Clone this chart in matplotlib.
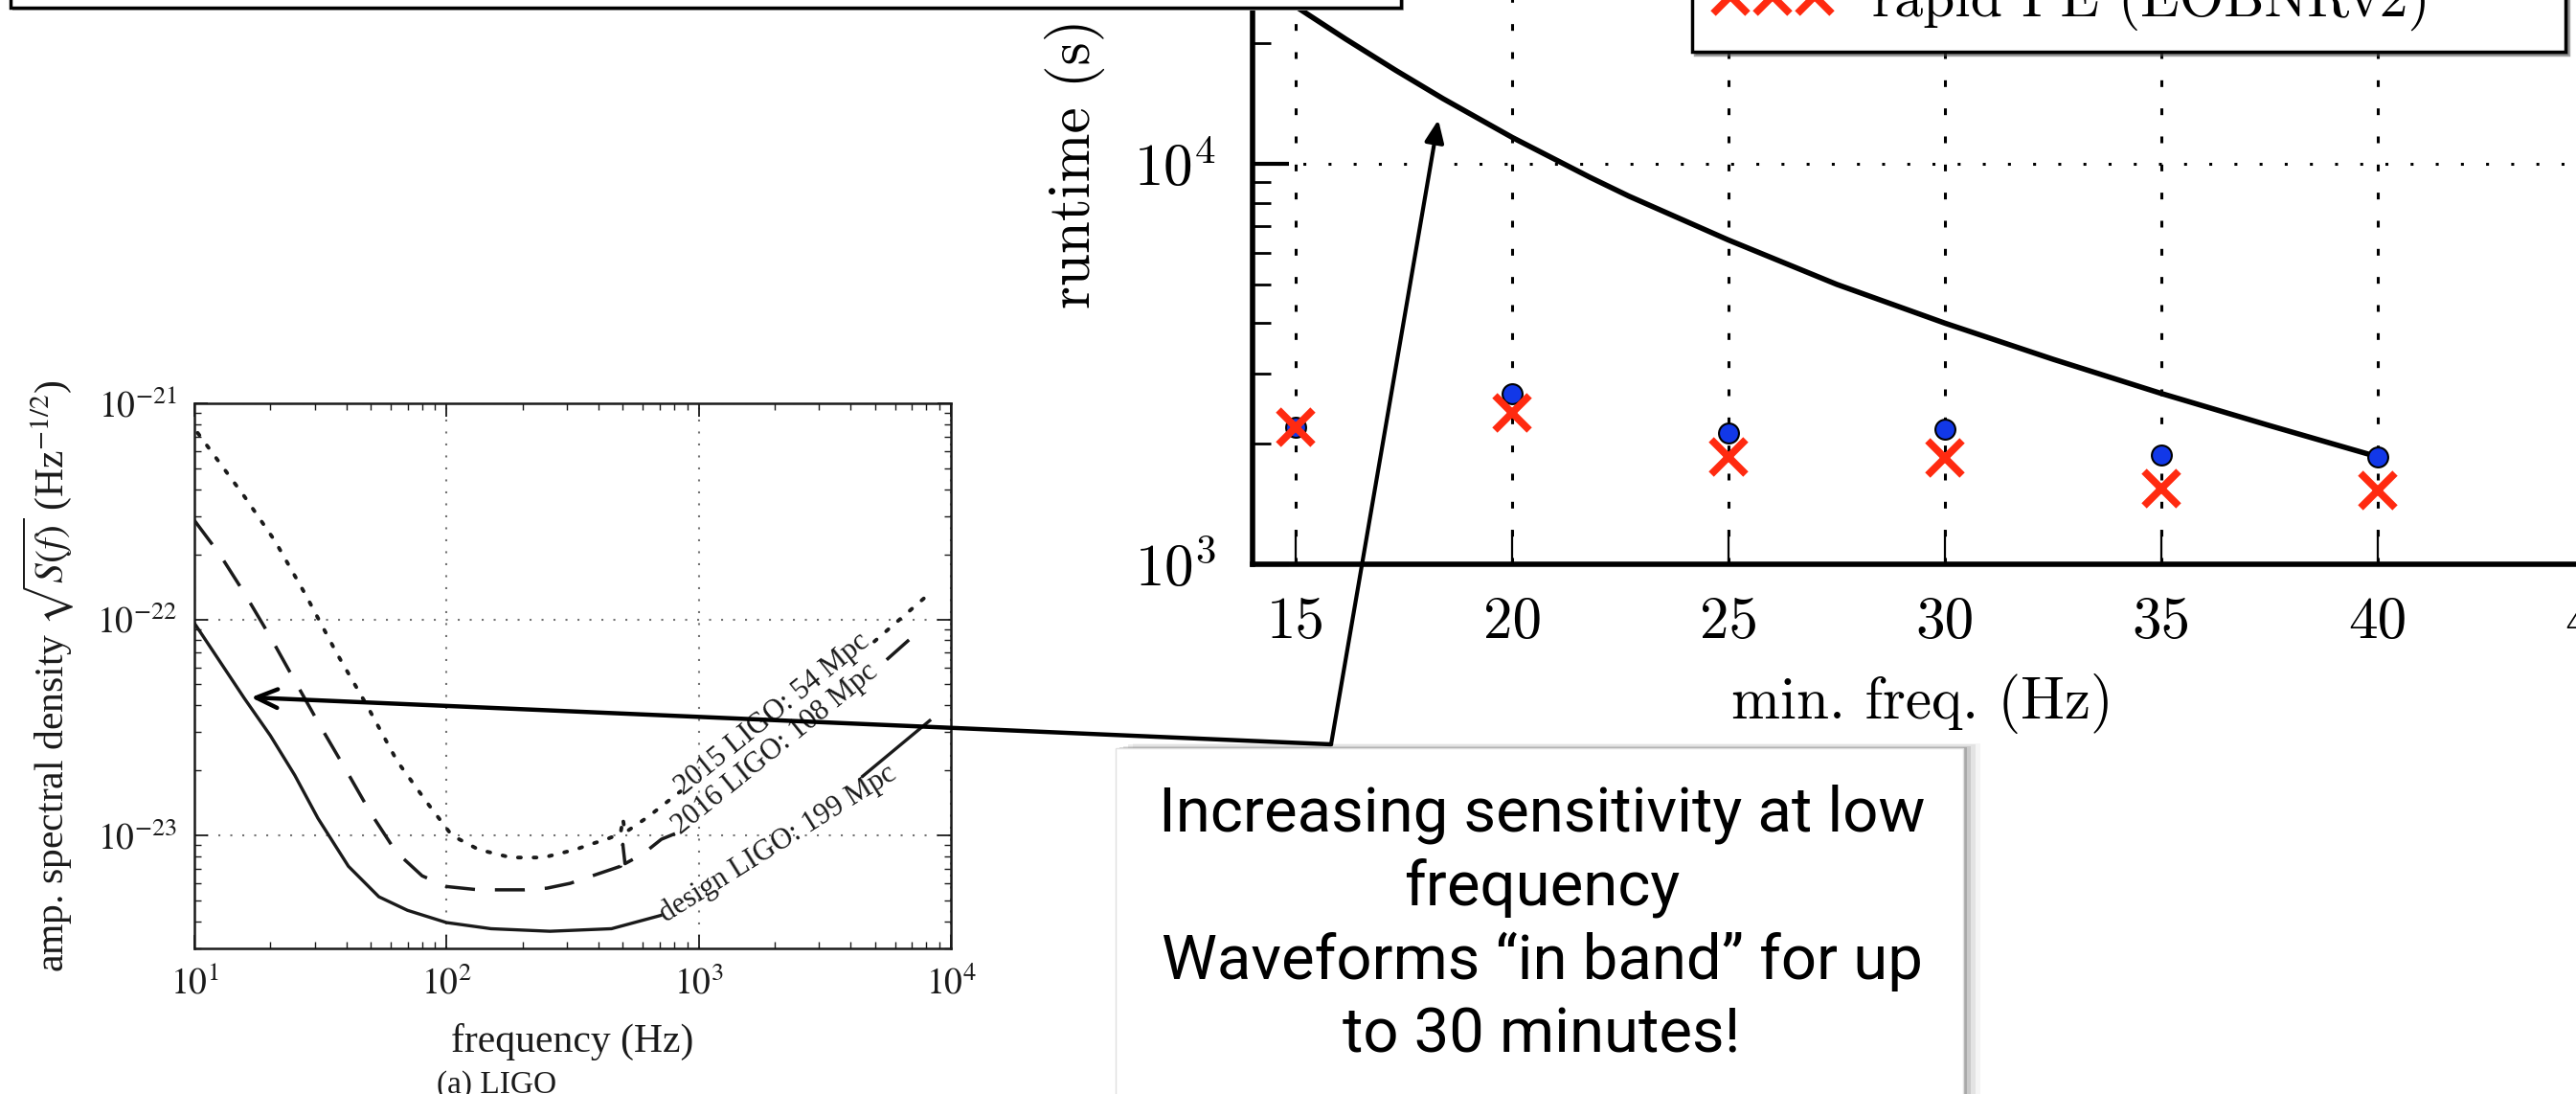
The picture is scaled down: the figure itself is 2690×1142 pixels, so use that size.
import numpy as np
import matplotlib
matplotlib.use("Agg")
import matplotlib.pyplot as plt
from matplotlib.patches import Rectangle, FancyArrowPatch
from matplotlib.ticker import NullFormatter

W, H = 2690, 1142
nan = np.nan

# right panel: runtime vs low-frequency cutoff
fmin = [15, 20, 25, 30, 35, 40]
runtime_circ = [2200, 2670, 2130, 2175, 1875, 1855]
runtime_x = [2195, 2390, 1850, 1840, 1545, 1530]
curve_f = [15.0, 16.15, 17.3, 18.4, 20.0, 21.8, 22.7, 25.0, 27.5, 30.0, 32.5, 35.0, 37.5, 40.0]
curve_t = [24700, 20500, 17140, 14550, 11640, 9250, 8300, 6450, 5000, 4000, 3250, 2670, 2220, 1855]
freq_ticks = [15, 20, 25, 30, 35, 40, 45]

# left panel: LIGO amplitude spectral densities
design_f = [10, 12.6, 15.8, 20, 25, 30.9, 40.8, 53.9, 70, 100, 150, 257, 451, 705, nan, 4470, 8240]
design_asd = [9.6e-23, 6.4e-23, 4.3e-23, 2.9e-23, 1.9e-23, 1.2e-23, 7.2e-24, 5.2e-24, 4.5e-24,
              3.95e-24, 3.7e-24, 3.6e-24, 3.7e-24, 4.26e-24, nan, 1.88e-23, 3.4e-23]
ligo16_f = [10, 12.6, 15.8, 20, 25, 31.6, 40, 50, 63, 80, 100, 134, 204, 250, 309, 378, 490, 500,
            510, 600, 711, 824, nan, 5560, 7360]
ligo16_asd = [2.87e-22, 2.0e-22, 1.32e-22, 8.3e-23, 5.2e-23, 3.2e-23, 2.0e-23, 1.27e-23, 8.4e-24,
              6.5e-24, 5.8e-24, 5.6e-24, 5.6e-24, 5.7e-24, 6.0e-24, 6.5e-24, 7.2e-24, 9.1e-24,
              7.4e-24, 8.2e-24, 9.6e-24, 1.03e-23, nan, 6.5e-23, 8.7e-23]
ligo15_f = [10.3, 15.8, 20.9, 27.6, 36.6, 48.3, 63.8, 84.4, 105, 134, 180, 242, 324, 372, 431,
            490, 500, 510, 630, 847, nan, 4970, 8240]
ligo15_asd = [7.3e-22, 3.7e-22, 2.3e-22, 1.3e-22, 7.0e-23, 4.0e-23, 2.2e-23, 1.4e-23, 1.0e-23,
              8.6e-24, 7.9e-24, 7.9e-24, 8.6e-24, 9.1e-24, 9.6e-24, 1.02e-23, 1.2e-23, 1.03e-23,
              1.22e-23, 1.6e-23, nan, 7.9e-23, 1.32e-22]

plt.rcParams['mathtext.fontset'] = 'cm'

fig = plt.figure(figsize=(W / 100, H / 100), dpi=100)


def fx(x, y):
    return (x / W, 1 - y / H)


def rect(x0, y0, x1, y1, **kw):
    r = Rectangle((x0 / W, 1 - y1 / H), (x1 - x0) / W, (y1 - y0) / H,
                  transform=fig.transFigure, **kw)
    fig.patches.append(r)
    return r


# ---------------- runtime panel ----------------
ax = fig.add_axes([1308 / W, 1 - 589 / H, 1446 / W, 836 / H])
ax.set_yscale('log')
ax.set_xlim(14, 46)
ax.set_ylim(1e3, 1e5)
ax.set_axisbelow(True)
ax.plot(curve_f, curve_t, color='k', lw=4, solid_joinstyle='round', zorder=3)
ax.plot(fmin, runtime_circ, 'o', ms=15, mfc='#1238e8', mec='k', mew=1.5, zorder=4)
ax.plot(fmin, runtime_x, 'x', ms=26, mec='#ff2a10', mew=5.5, zorder=5,
        label='rapid PE (EOBNRv2)')

for s in ['left', 'bottom']:
    ax.spines[s].set_linewidth(4)
ax.set_xticks(freq_ticks, labels=[str(v) for v in freq_ticks], fontfamily='cmr10', fontsize=44)
ax.set_yticks([1e3, 1e4, 1e5], labels=[r'$10^3$', r'$10^4$', r'$10^5$'], fontsize=44)
ax.yaxis.set_minor_formatter(NullFormatter())
ax.tick_params(axis='x', which='major', direction='in', length=26, width=1.6, pad=24)
ax.tick_params(axis='y', which='major', direction='in', length=27, width=3, pad=27)
ax.tick_params(axis='y', which='minor', direction='in', length=14, width=2)
ax.grid(axis='x', which='major', color='k', lw=2.2, ls=(0, (2.3, 7.3)))
ax.grid(axis='y', which='major', color='k', lw=2.2, ls=(0, (1, 7.6)))

ax.set_ylabel('runtime (s)', fontfamily='cmr10', fontsize=44, va='center')
ax.yaxis.set_label_coords(-0.128, 0.5)
ax.set_xlabel('min. freq. (Hz)', fontfamily='cmr10', fontsize=44, va='center')
ax.xaxis.set_label_coords(0.484, -0.1746)

leg = ax.legend(loc='lower left', bbox_to_anchor=(1767 / W, 1 - 54 / H, 912 / W, 0.1),
                bbox_transform=fig.transFigure, mode='expand', borderaxespad=0,
                numpoints=3, handlelength=2.07, handletextpad=0.7, borderpad=0.37,
                prop={'family': 'cmr10', 'size': 43}, fancybox=False, edgecolor='k',
                framealpha=1, shadow=True)
leg.get_frame().set_linewidth(2.5)

# ---------------- LIGO panel ----------------
serif = 'Liberation Serif'
ink = '#1a1a1a'
ax2 = fig.add_axes([203 / W, 1 - 990 / H, 790 / W, 569 / H])
ax2.set_xscale('log')
ax2.set_yscale('log')
ax2.set_xlim(10, 1e4)
ax2.set_ylim(3e-24, 1e-21)
ax2.plot(design_f, design_asd, color=ink, lw=2.4)
ax2.plot(ligo16_f, ligo16_asd, color=ink, lw=2.5, ls=(0, (9, 6)))
ax2.plot(ligo15_f, ligo15_asd, color=ink, lw=2.8, ls=(0, (0.8, 3.4)), dash_capstyle='round')

for s in ax2.spines.values():
    s.set_linewidth(1.8)
    s.set_color(ink)
ax2.set_xticks([10, 100, 1000, 10000],
               labels=[r'$10^{1}$', r'$10^{2}$', r'$10^{3}$', r'$10^{4}$'],
               fontsize=27, math_fontfamily='stix', color=ink)
ax2.set_yticks([1e-23, 1e-22, 1e-21],
               labels=[r'$10^{-23}$', r'$10^{-22}$', r'$10^{-21}$'],
               fontsize=27, math_fontfamily='stix', color=ink)
ax2.xaxis.set_minor_formatter(NullFormatter())
ax2.yaxis.set_minor_formatter(NullFormatter())
ax2.tick_params(which='both', direction='in', top=True, right=True, color=ink)
ax2.tick_params(which='major', length=10, width=1.3)
ax2.tick_params(axis='x', which='major', pad=14)
ax2.tick_params(axis='y', which='major', pad=13)
ax2.tick_params(which='minor', length=5, width=1.0)
ax2.grid(which='major', color='0.45', ls=(0, (1, 5)), lw=1.5)

ax2.set_ylabel(r'amp. spectral density $\sqrt{S(f)}$ (Hz$^{-1/2}$)', fontfamily=serif,
               fontsize=30, math_fontfamily='stix', va='center', color=ink)
ax2.yaxis.set_label_coords(-0.192, 0.5)
ax2.set_xlabel('frequency (Hz)', fontfamily=serif, fontsize=30, va='center', color=ink)
ax2.xaxis.set_label_coords(0.5, -0.1705)
ax2.text(0.399, -0.2513, '(a) LIGO', transform=ax2.transAxes, ha='center', va='center',
         fontfamily=serif, fontsize=24, color=ink)

lab = dict(rotation_mode='anchor', ha='left', va='baseline', fontfamily=serif,
           fontsize=22, color=ink)
ax2.text(869, 1.52e-23, '2015 LIGO: 54 Mpc', rotation=39, **lab)
ax2.text(850, 1.01e-23, '2016 LIGO: 108 Mpc', rotation=39, **lab)
ax2.text(740, 3.95e-24, 'design LIGO: 199 Mpc', rotation=32, **lab)

# ---------------- slide decorations ----------------
# title box cut by the top edge
rect(13, -60, 1466, 11, facecolor='0.7', edgecolor='none', zorder=2)
rect(11, -60, 1463, 8, facecolor='white', edgecolor='k', lw=2.5, zorder=2)

# text box with drop shadow
bx0, by0, bx1, by1 = 1165, 781, 2050, 1170
for k, a in [(18, 0.04), (13, 0.07), (8, 0.11), (4, 0.16)]:
    rect(bx0 + k, by0 - k * 0.3, bx1 + k, by1, facecolor='k', alpha=a, edgecolor='none', zorder=2)
rect(bx0, by0, bx1, by1, facecolor='white', edgecolor='0.88', lw=1, zorder=2)
fig.text(1610 / W, 1 - 965 / H,
         'Increasing sensitivity at low\nfrequency\nWaveforms \u201cin band\u201d for up\nto 30 minutes!',
         ha='center', va='center', multialignment='center', fontsize=47, linespacing=1.3,
         fontfamily='Roboto', fontweight='normal', color='k', zorder=3)

tail = fx(1390, 777)
fig.patches.append(FancyArrowPatch(tail, fx(262, 728), transform=fig.transFigure,
                                   arrowstyle='->,head_length=0.8,head_width=0.35',
                                   mutation_scale=20, lw=3.2, color='k',
                                   shrinkA=0, shrinkB=0, zorder=6))
fig.patches.append(FancyArrowPatch(tail, fx(1502, 125), transform=fig.transFigure,
                                   arrowstyle='-|>,head_length=0.7,head_width=0.3',
                                   mutation_scale=20, lw=3, color='k',
                                   shrinkA=0, shrinkB=0, zorder=6))

fig.savefig('out.png', dpi=100)
